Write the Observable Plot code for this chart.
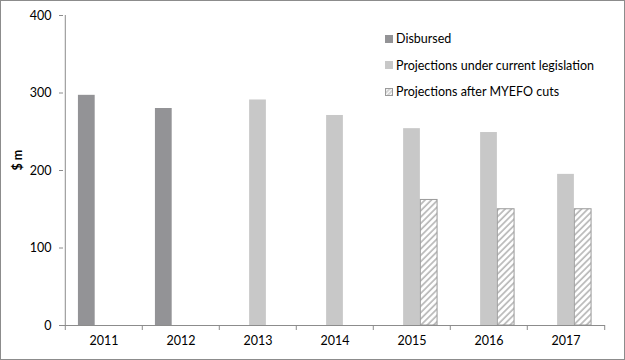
<!DOCTYPE html>
<html>
<head>
<meta charset="utf-8">
<script src="https://cdn.jsdelivr.net/npm/d3@7"></script>
<script src="https://cdn.jsdelivr.net/npm/@observablehq/plot@0.6"></script>
<style>
  body { margin: 0; background: #fff; }
  #wrap { position: relative; width: 625px; height: 360px; overflow: hidden; font-family: Lato, "Open Sans", sans-serif; }
  #border { position: absolute; left: 0; top: 0; width: 625px; height: 360px; box-sizing: border-box; border: 1px solid #8c8c8c; pointer-events: none; }
  #legend { position: absolute; left: 385px; top: 32px; font-size: 12.5px; color: #000; }
  .row { display: flex; align-items: center; height: 13px; margin-bottom: 13.5px; white-space: nowrap; }
  .sw { width: 8px; height: 8px; margin-right: 3px; flex: none; }
</style>
</head>
<body>
<div id="wrap">
  <div id="chart"></div>
  <div id="legend"></div>
  <div id="border"></div>
</div>
<script>
const years = ["2011", "2012", "2013", "2014", "2015", "2016", "2017"];
const disbursed = [297, 280, null, null, null, null, null];
const projections = [null, null, 291, 271, 254, 249, 195];
const myefo = [null, null, null, null, 162, 150, 150];
const seriesNames = ["Disbursed", "Projections under current legislation", "Projections after MYEFO cuts"];
const yTicks = [0, 100, 200, 300, 400];

const colors = { dark: "#939396", light: "#c8c8c8" };

const toRows = (vals, s) => years.map((y, i) => ({ year: y, value: vals[i], series: s })).filter(d => d.value != null);
const rowsD = toRows(disbursed, seriesNames[0]);
const rowsP = toRows(projections, seriesNames[1]);
const rowsM = toRows(myefo, seriesNames[2]);

const W = 625, H = 360;
const mL = 63, mR = 20, mT = 15, mB = 35;
const bw = (W - mL - mR) / years.length;
const gap = 0.167 * bw, barW = 0.222 * bw;
const inset = k => ({ insetLeft: gap + k * barW, insetRight: bw - gap - (k + 1) * barW });

const chart = Plot.plot({
  width: W,
  height: H,
  marginLeft: mL,
  marginRight: mR,
  marginTop: mT,
  marginBottom: mB,
  style: { fontFamily: "Lato, 'Open Sans', sans-serif", fontSize: "12px", color: "#000", background: "#fff" },
  x: { domain: years, padding: 0, axis: null },
  y: { domain: [0, 400], axis: null },
  marks: [
    Plot.barY(rowsD, { x: "year", y: "value", fill: colors.dark, ...inset(0) }),
    Plot.barY(rowsP, { x: "year", y: "value", fill: colors.light, ...inset(1) }),
    Plot.barY(rowsM, { x: "year", y: "value", fill: "url(#hatch)", stroke: "#9a9a9a", strokeWidth: 1, ...inset(2) }),
    Plot.ruleY([0], { stroke: "#8c8c8c" }),
    Plot.ruleX([0], { x: () => years[0], dx: -bw / 2, stroke: "#8c8c8c" }),
    Plot.axisY({ ticks: yTicks, tickSize: 4, tickPadding: 8, stroke: "#8c8c8c", label: null, fontSize: 12.5 }),
    Plot.axisX({ tickSize: 5, stroke: "#8c8c8c", tickFormat: () => "", dx: -bw / 2, label: null }),
    Plot.axisX({ ticks: [years[years.length - 1]], tickSize: 5, stroke: "#8c8c8c", tickFormat: () => "", dx: bw / 2, label: null }),
    Plot.axisX({ tickSize: 0, tickPadding: 11, label: null, fontSize: 12.5 }),
    Plot.text(["$ m"], { frameAnchor: "left", rotate: -90, dx: -46, fontWeight: "bold", fontSize: 12.5 })
  ]
});

chart.insertAdjacentHTML("afterbegin",
  `<defs><pattern id="hatch" patternUnits="userSpaceOnUse" width="4.5" height="4.5" patternTransform="rotate(45)">
     <rect width="4.5" height="4.5" fill="#fff"/>
     <line x1="1" y1="0" x2="1" y2="4.5" stroke="#b8b8b8" stroke-width="1.7"/>
   </pattern>
   <pattern id="hatchL" patternUnits="userSpaceOnUse" width="3" height="3" patternTransform="rotate(45)">
     <rect width="3" height="3" fill="#fff"/>
     <line x1="1" y1="0" x2="1" y2="3" stroke="#b8b8b8" stroke-width="1.2"/>
   </pattern></defs>`);
document.getElementById("chart").appendChild(chart);

const legend = document.getElementById("legend");
const swatches = [
  `<div class="sw" style="background:${colors.dark}"></div>`,
  `<div class="sw" style="background:${colors.light}"></div>`,
  `<svg class="sw" width="8" height="8"><rect x="0.5" y="0.5" width="7" height="7" fill="url(#hatchL)" stroke="#9a9a9a"/></svg>`
];
seriesNames.forEach((name, i) => {
  const row = document.createElement("div");
  row.className = "row";
  row.innerHTML = swatches[i] + `<span>${name}</span>`;
  legend.appendChild(row);
});
</script>
</body>
</html>
